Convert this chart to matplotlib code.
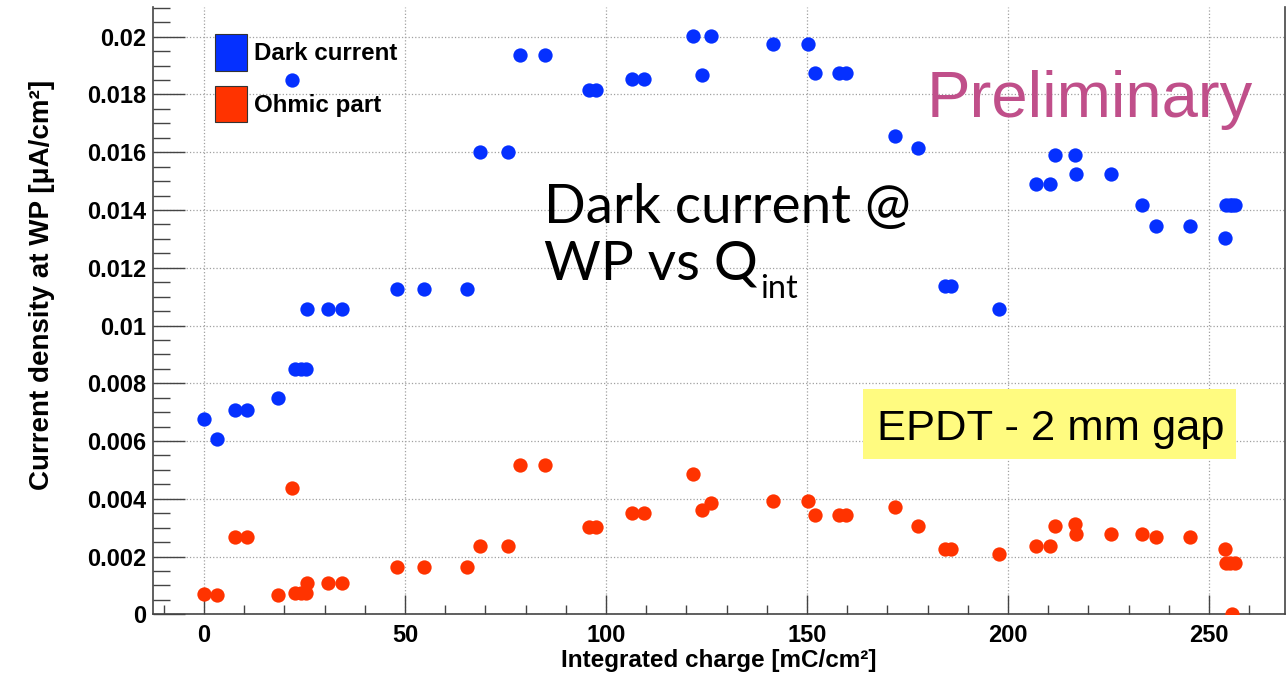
import numpy as np
import matplotlib
matplotlib.use('agg')
import matplotlib.pyplot as plt
from matplotlib.patches import Patch, Rectangle
from matplotlib.ticker import MultipleLocator, FuncFormatter

# integrated charge [mC/cm2], shared by both series
charge = [0, 3.1, 7.6, 10.6, 18.5, 22.0, 22.7, 24.0, 25.3, 25.6, 30.9, 34.4,
          47.9, 54.7, 65.3, 68.7, 75.5, 78.6, 84.9, 95.8, 97.4, 106.4, 109.5,
          121.7, 123.8, 126.1, 141.6, 150.3, 152.0, 158.0, 159.8, 172.0, 177.7,
          184.4, 185.7, 197.8, 206.9, 210.4, 211.7, 216.7, 216.9, 225.5, 233.3,
          236.8, 245.3, 254.0, 254.2, 255.2, 256.4, 255.8]

dark_current = [0.00675, 0.00608, 0.00707, 0.00707, 0.00750, 0.01850, 0.00848,
                0.00848, 0.00848, 0.01057, 0.01057, 0.01057, 0.01126, 0.01126,
                0.01126, 0.01600, 0.01600, 0.01937, 0.01937, 0.01815, 0.01815,
                0.01854, 0.01854, 0.02003, 0.01866, 0.02003, 0.01974, 0.01974,
                0.01873, 0.01873, 0.01873, 0.01657, 0.01616, 0.01137, 0.01137,
                0.01056, 0.01490, 0.01490, 0.01589, 0.01589, 0.01526, 0.01526,
                0.01416, 0.01343, 0.01343, 0.01302, 0.01416, 0.01416, 0.01416,
                0.01416]

ohmic_part = [0.00070, 0.00068, 0.00267, 0.00267, 0.00068, 0.00437, 0.00073,
              0.00073, 0.00073, 0.00110, 0.00107, 0.00107, 0.00163, 0.00163,
              0.00163, 0.00238, 0.00238, 0.00517, 0.00517, 0.00303, 0.00303,
              0.00350, 0.00350, 0.00486, 0.00361, 0.00384, 0.00392, 0.00392,
              0.00344, 0.00344, 0.00344, 0.00373, 0.00307, 0.00225, 0.00225,
              0.00209, 0.00238, 0.00238, 0.00307, 0.00312, 0.00278, 0.00278,
              0.00278, 0.00267, 0.00267, 0.00225, 0.00179, 0.00179, 0.00179,
              0.00000]

labels = ['Dark current', 'Ohmic part']
blue = '#0530ff'
red = '#ff3300'

plt.rcParams['font.family'] = ['Liberation Sans', 'DejaVu Sans']

W, H = 1286, 675
fig = plt.figure(figsize=(12.86, 6.75), dpi=100)
ax = fig.add_axes([153 / W, 1 - 614.3 / H, (1285 - 153) / W, (614.3 - 7) / H])

ax.plot(charge, dark_current, 'o', color=blue, markersize=10.3, markeredgewidth=0, zorder=3)
ax.plot(charge, ohmic_part, 'o', color=red, markersize=10.3, markeredgewidth=0, zorder=3)

ax.set_xlim(-12.7, 268.9)
ax.set_ylim(0, 0.02103)
ax.xaxis.set_major_locator(MultipleLocator(50))
ax.xaxis.set_minor_locator(MultipleLocator(10))
ax.yaxis.set_major_locator(MultipleLocator(0.002))
ax.yaxis.set_minor_locator(MultipleLocator(0.0005))
ax.yaxis.set_major_formatter(FuncFormatter(lambda v, p: '%g' % round(v, 6)))

ax.set_axisbelow(True)
ax.grid(True, which='major', linestyle=':', color='#a0a0a0', linewidth=0.9)

ax.tick_params(axis='y', which='major', direction='in', length=23, width=1,
               color='#444', labelsize=17, pad=5)
ax.tick_params(axis='y', which='minor', direction='in', length=12, width=1, color='#444')
ax.tick_params(axis='x', which='major', direction='in', length=14, width=1,
               color='#444', labelsize=17, pad=7)
ax.tick_params(axis='x', which='minor', direction='in', length=6.5, width=1, color='#444')
for lab in ax.get_xticklabels() + ax.get_yticklabels():
    lab.set_fontweight('bold')

ax.spines['top'].set_visible(False)
for s in ['left', 'bottom', 'right']:
    ax.spines[s].set_color('#444')
    ax.spines[s].set_linewidth(1.2)

ax.set_xlabel('Integrated charge [mC/cm²]', fontsize=17.5, fontweight='bold')
ax.set_ylabel('Current density at WP [μA/cm²]', fontsize=20, fontweight='bold')
ax.xaxis.set_label_coords(0.5, -0.057)
ax.yaxis.set_label_coords(-0.087, 0.542)

# legend
handles = [Patch(facecolor=blue, edgecolor='#333', linewidth=0.8),
           Patch(facecolor=red, edgecolor='#333', linewidth=0.8)]
fig.legend(handles, labels, loc='upper left', bbox_to_anchor=(215 / W, 1 - 34 / H),
           frameon=False, borderpad=0, borderaxespad=0, handlelength=1.33,
           handleheight=1.95, handletextpad=0.3, labelspacing=0.62,
           prop={'size': 17.4, 'weight': 'bold'})

# annotations
fig.text(544 / W, 1 - 223 / H, 'Dark current @', family='Lato', fontsize=39.5,
         va='baseline', ha='left')
wp = fig.text(544 / W, 1 - 280 / H, 'WP vs Q', family='Lato', fontsize=39.5,
              va='baseline', ha='left')
bb = wp.get_window_extent(renderer=fig.canvas.get_renderer())
fig.text(bb.x1 / W + 2 / W, 1 - 298 / H, 'int', family='Lato', fontsize=23.5,
         va='baseline', ha='left')
fig.text(927 / W, 1 - 116.7 / H, 'Preliminary', color='#c04f8a', fontsize=47,
         va='baseline', ha='left')
fig.patches.append(Rectangle((862.7 / W, 1 - 459.3 / H), (1236 - 862.7) / W, 70 / H,
                             transform=fig.transFigure, facecolor='#fffb80',
                             edgecolor='none', zorder=5))
fig.text(876.7 / W, 1 - 440 / H, 'EPDT - 2 mm gap', fontsize=31.3, va='baseline',
         ha='left', zorder=6)

fig.savefig('out.png', dpi=100)
